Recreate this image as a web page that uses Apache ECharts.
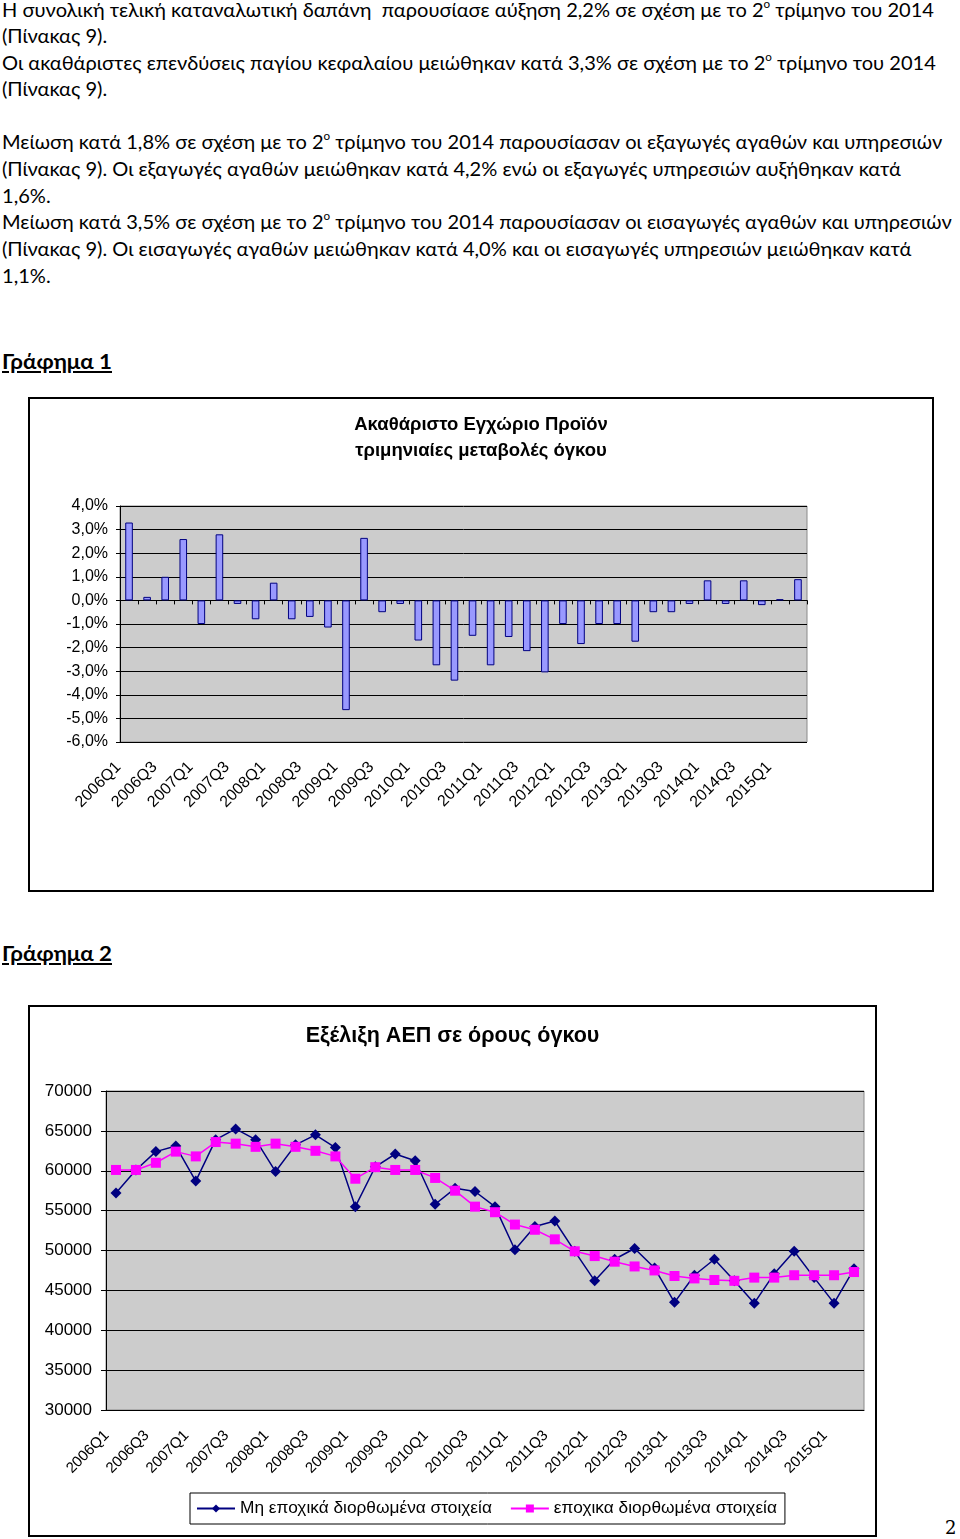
<!DOCTYPE html>
<html><head><meta charset="utf-8">
<script src="https://cdn.jsdelivr.net/npm/echarts@6/dist/echarts.min.js"></script>
<style>
html,body{margin:0;padding:0;background:#fff;}
body{width:960px;height:1539px;position:relative;overflow:hidden;font-family:Lato,"Open Sans",sans-serif;}
.ln{position:absolute;left:2px;white-space:nowrap;font-size:19px;line-height:26px;color:#000;transform-origin:0 50%;}
.ln sup{font-size:11px;line-height:0;vertical-align:9px;}
.hd{position:absolute;left:2px;white-space:nowrap;font-size:21px;font-weight:bold;text-decoration:underline;line-height:26px;transform-origin:0 50%;}
.box{position:absolute;border:2px solid #000;box-sizing:border-box;background:#fff;}
.pg{position:absolute;left:945px;top:1517px;font-family:"DejaVu Serif","Liberation Serif",serif;font-size:18px;}
</style></head>
<body>
<div class="ln" style="top:-3px">Η συνολική τελική καταναλωτική δαπάνη&nbsp; παρουσίασε αύξηση 2,2% σε σχέση με το 2<sup>ο</sup> τρίμηνο του 2014</div>
<div class="ln" style="top:23px">(Πίνακας 9).</div>
<div class="ln" style="top:50px">Οι ακαθάριστες επενδύσεις παγίου κεφαλαίου μειώθηκαν κατά 3,3% σε σχέση με το 2<sup>ο</sup> τρίμηνο του 2014</div>
<div class="ln" style="top:76px">(Πίνακας 9).</div>
<div class="ln" style="top:129px">Μείωση κατά 1,8% σε σχέση με το 2<sup>ο</sup> τρίμηνο του 2014 παρουσίασαν οι εξαγωγές αγαθών και υπηρεσιών</div>
<div class="ln" style="top:156px">(Πίνακας 9). Οι εξαγωγές αγαθών μειώθηκαν κατά 4,2% ενώ οι εξαγωγές υπηρεσιών αυξήθηκαν κατά</div>
<div class="ln" style="top:183px">1,6%.</div>
<div class="ln" style="top:209px">Μείωση κατά 3,5% σε σχέση με το 2<sup>ο</sup> τρίμηνο του 2014 παρουσίασαν οι εισαγωγές αγαθών και υπηρεσιών</div>
<div class="ln" style="top:236px">(Πίνακας 9). Οι εισαγωγές αγαθών μειώθηκαν κατά 4,0% και οι εισαγωγές υπηρεσιών μειώθηκαν κατά</div>
<div class="ln" style="top:263px">1,1%.</div>
<div class="hd" style="top:348px">Γράφημα 1</div>
<div class="hd" style="top:940px">Γράφημα 2</div>
<div class="box" style="left:28px;top:397px;width:906px;height:495px;"><div id="c1" style="width:902px;height:491px;"></div></div>
<div class="box" style="left:28px;top:1005px;width:849px;height:532px;"><div id="c2" style="width:845px;height:528px;"></div></div>
<div class="pg">2</div>
<script>
// ---- data ----
const quarters = ["2006Q1","2006Q2","2006Q3","2006Q4","2007Q1","2007Q2","2007Q3","2007Q4",
"2008Q1","2008Q2","2008Q3","2008Q4","2009Q1","2009Q2","2009Q3","2009Q4",
"2010Q1","2010Q2","2010Q3","2010Q4","2011Q1","2011Q2","2011Q3","2011Q4",
"2012Q1","2012Q2","2012Q3","2012Q4","2013Q1","2013Q2","2013Q3","2013Q4",
"2014Q1","2014Q2","2014Q3","2014Q4","2015Q1","2015Q2"];
const gdpChange = [3.3,0.15,1.0,2.6,-1.0,2.8,-0.15,-0.8,
0.75,-0.8,-0.7,-1.15,-4.65,2.65,-0.5,-0.15,
-1.7,-2.75,-3.4,-1.5,-2.75,-1.55,-2.15,-3.05,
-1.0,-1.85,-1.0,-1.0,-1.75,-0.5,-0.5,-0.15,
0.85,-0.15,0.85,-0.2,0.05,0.9];
const gdpNSA = [57200,60100,62400,63100,58700,63900,65250,63900,
59900,63250,64500,62900,55500,60500,62100,61250,
55800,57800,57400,55500,50100,53000,53700,49900,
46200,48900,50250,47800,43500,46900,48900,46200,
43400,47100,49900,46600,43400,47700];
const gdpSA = [60100,60100,61000,62400,61800,63600,63400,63000,
63400,63000,62500,61800,59000,60450,60100,60100,
59100,57500,55500,54800,53250,52600,51400,49900,
49300,48600,48000,47500,46800,46500,46300,46200,
46600,46600,46900,46900,46900,47300];
const chart1Title = "Ακαθάριστο Εγχώριο Προϊόν\nτριμηνιαίες μεταβολές όγκου";
const chart2Title = "Εξέλιξη ΑΕΠ σε όρους όγκου";
const seriesNames = ["Μη εποχικά διορθωμένα στοιχεία","εποχικα διορθωμένα στοιχεία"];

// ---- scale paragraph text to Calibri-like width ----
(function(){
  const lines = document.querySelectorAll('.ln');
  const w = lines[0].getBoundingClientRect().width;
  const k = 932 / w;
  lines.forEach(l => l.style.transform = 'scaleX(' + k + ')');
  document.querySelectorAll('.hd').forEach(h => {
    const hw = h.getBoundingClientRect().width;
    h.style.transform = 'scaleX(' + (110 / hw) + ')';
  });
})();

const F = 'Liberation Sans, Arial, sans-serif';

const c1 = echarts.init(document.getElementById('c1'), null, {renderer:'canvas'});
c1.setOption({
  animation:false,
  title:{text:chart1Title,left:'center',top:8,
    textStyle:{fontFamily:F,fontSize:18.5,fontWeight:'bold',color:'#000',lineHeight:26}},
  grid:{left:90,top:107,width:687,height:236,show:true,backgroundColor:'#CCCCCC',borderColor:'#8a8a8a',borderWidth:1},
  xAxis:[
    {type:'category',data:quarters,axisLine:{onZero:true,lineStyle:{color:'#000',width:1}},
     axisTick:{show:true,interval:0,length:4,lineStyle:{color:'#000'}},axisLabel:{show:false},splitLine:{show:false}},
    {type:'category',data:quarters,position:'bottom',axisLine:{show:false,onZero:false},axisTick:{show:false},
     axisLabel:{interval:1,rotate:45,margin:12,padding:[0,15,0,0],fontFamily:F,fontSize:16,color:'#000'},splitLine:{show:false}}
  ],
  yAxis:{type:'value',min:-6,max:4,interval:1,
    axisLine:{show:true,lineStyle:{color:'#000'}},axisTick:{show:true,length:4,lineStyle:{color:'#000'}},
    splitLine:{lineStyle:{color:'#000',width:1}},
    axisLabel:{margin:12,fontFamily:F,fontSize:16,color:'#000',
      formatter:v=>v.toFixed(1).replace('.',',')+'%'}},
  series:[{type:'bar',data:gdpChange,xAxisIndex:0,barWidth:'42%',
    itemStyle:{color:'#9999FF',borderColor:'#000080',borderWidth:1}}]
});

const c2 = echarts.init(document.getElementById('c2'), null, {renderer:'canvas'});
c2.setOption({
  animation:false,
  title:{text:chart2Title,left:'center',top:13,
    textStyle:{fontFamily:F,fontSize:21.5,fontWeight:'bold',color:'#000'}},
  grid:{left:76,top:84,width:758,height:319,show:true,backgroundColor:'#CCCCCC',borderColor:'#8a8a8a',borderWidth:1},
  legend:{top:486,left:160,borderColor:'#000',borderWidth:1,padding:[7,8,7,6],itemGap:18,
    itemWidth:38,itemHeight:10,
    textStyle:{fontFamily:F,fontSize:17.3,color:'#000'},data:seriesNames},
  xAxis:{type:'category',data:quarters,
    axisLine:{lineStyle:{color:'#000'}},axisTick:{interval:0,length:5,lineStyle:{color:'#000'}},
    axisLabel:{interval:1,rotate:45,margin:14,padding:[0,13,0,0],fontFamily:F,fontSize:15,color:'#000'}},
  yAxis:{type:'value',min:30000,max:70000,interval:5000,
    axisLine:{show:true,lineStyle:{color:'#000'}},axisTick:{show:true,length:5,lineStyle:{color:'#000'}},
    splitLine:{lineStyle:{color:'#000',width:1}},
    axisLabel:{margin:14,fontFamily:F,fontSize:17,color:'#000',formatter:v=>String(v)}},
  series:[
    {name:seriesNames[0],type:'line',data:gdpNSA,symbol:'diamond',symbolSize:11,
     lineStyle:{color:'#000080',width:1.5},itemStyle:{color:'#000080'}},
    {name:seriesNames[1],type:'line',data:gdpSA,symbol:'rect',symbolSize:10,
     lineStyle:{color:'#FF00FF',width:1.5},itemStyle:{color:'#FF00FF'}}
  ]
});
</script>
</body></html>
